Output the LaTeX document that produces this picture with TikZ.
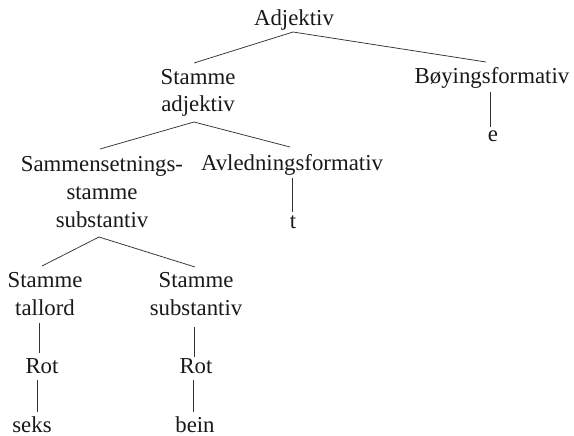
\documentclass[tikz,border=0pt]{standalone}
\usepackage{fontspec}
\setmainfont{Liberation Serif}
\begin{document}
\begin{tikzpicture}[x=1pt,y=-1pt,
  lbl/.style={inner sep=0pt, anchor=base, align=center, font=\fontsize{22.8}{28}\selectfont, text=black!90},
  edge/.style={line width=0.75pt, draw=black!80}]
\useasboundingbox[fill=white] (0,0) rectangle (574,436);
% multi-line nodes: base anchor = baseline of last line
\node[lbl] (adj)   at (294,26)  {Adjektiv};
\node[lbl] (stadj) at (198,112) {Stamme\\adjektiv};
\node[lbl] (boy)   at (492,84)  {Bøyingsformativ};
\node[lbl] (e)     at (493,142) {e};
\node[lbl] (sam)   at (102,227) {Sammensetnings-\\stamme\\substantiv};
\node[lbl] (avl)   at (292,171) {Avledningsformativ};
\node[lbl] (t)     at (293,228) {t};
\node[lbl] (st1)   at (45,315)  {Stamme\\tallord};
\node[lbl] (st2)   at (196,315) {Stamme\\substantiv};
\node[lbl] (rot1)  at (42,373)  {Rot};
\node[lbl] (rot2)  at (196,373) {Rot};
\node[lbl] (seks)  at (32,432)  {seks};
\node[lbl] (bein)  at (195,432) {bein};
\draw[edge] ([shift={(-1,6)}]adj.base) -- ([shift={(-4,-49)}]stadj.base);
\draw[edge] ([shift={(-1,6)}]adj.base) -- ([shift={(-6,-22)}]boy.base);
\draw[edge] ([shift={(-2,8)}]boy.base) -- ([shift={(-3,-15)}]e.base);
\draw[edge] ([shift={(-4,10)}]stadj.base) -- ([shift={(-2,-78)}]sam.base);
\draw[edge] ([shift={(-4,10)}]stadj.base) -- ([shift={(-2,-24)}]avl.base);
\draw[edge] ([shift={(0,7)}]avl.base) -- ([shift={(-1,-16)}]t.base);
\draw[edge] ([shift={(-3,10)}]sam.base) -- ([shift={(-3,-49)}]st1.base);
\draw[edge] ([shift={(-3,10)}]sam.base) -- ([shift={(-1,-48)}]st2.base);
\draw[edge] ([shift={(-6,8)}]st1.base) -- ([shift={(-3,-20)}]rot1.base);
\draw[edge] ([shift={(-5,7)}]rot1.base) -- ([shift={(5,-20)}]seks.base);
\draw[edge] ([shift={(-2,12)}]st2.base) -- ([shift={(-2,-16)}]rot2.base);
\draw[edge] ([shift={(-3,7)}]rot2.base) -- ([shift={(-2,-20)}]bein.base);
\end{tikzpicture}
\end{document}
